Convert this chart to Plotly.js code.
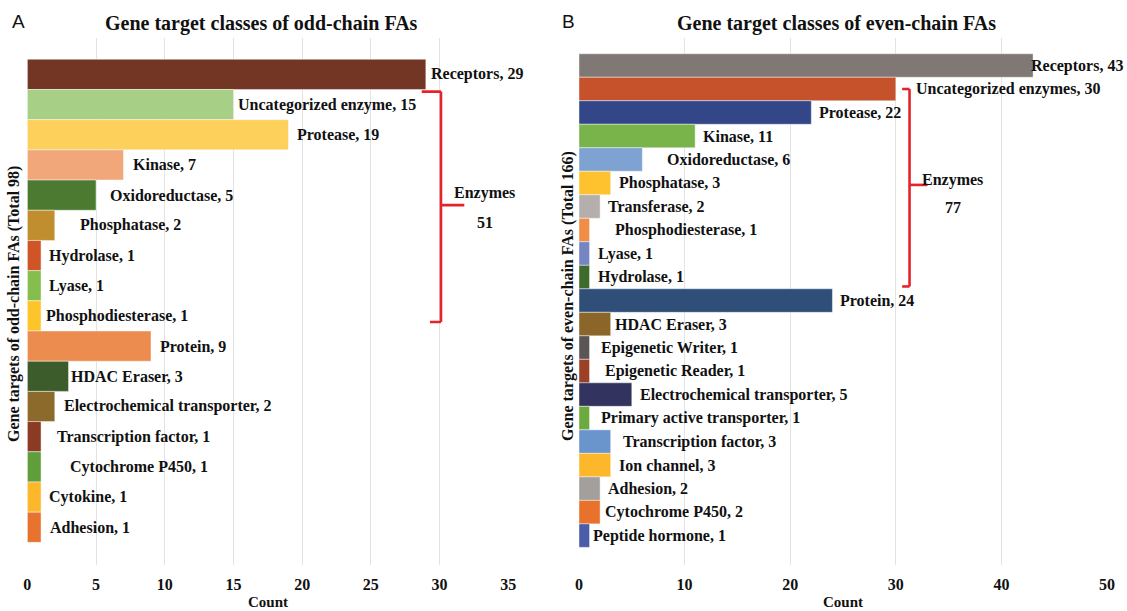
<!DOCTYPE html>
<html>
<head>
<meta charset="utf-8">
<script src="https://cdn.plot.ly/plotly-3.0.1.min.js"></script>
<style>
  html, body { margin: 0; padding: 0; background: #ffffff; }
  #chart { width: 1127px; height: 611px; }
</style>
</head>
<body>
<div id="chart"></div>
<script>
// ---- Odd-chain fatty acids: gene target classes ----
const oddClasses = [
  'Receptors', 'Uncategorized enzyme', 'Protease', 'Kinase', 'Oxidoreductase',
  'Phosphatase', 'Hydrolase', 'Lyase', 'Phosphodiesterase', 'Protein',
  'HDAC Eraser', 'Electrochemical transporter', 'Transcription factor',
  'Cytochrome P450', 'Cytokine', 'Adhesion'
];
const oddCounts = [29, 15, 19, 7, 5, 2, 1, 1, 1, 9, 3, 2, 1, 1, 1, 1];
const oddEnzymes = ['Uncategorized enzyme', 'Protease', 'Kinase', 'Oxidoreductase',
  'Phosphatase', 'Hydrolase', 'Lyase', 'Phosphodiesterase'];

// ---- Even-chain fatty acids: gene target classes ----
const evenClasses = [
  'Receptors', 'Uncategorized enzymes', 'Protease', 'Kinase', 'Oxidoreductase',
  'Phosphatase', 'Transferase', 'Phosphodiesterase', 'Lyase', 'Hydrolase',
  'Protein', 'HDAC Eraser', 'Epigenetic Writer', 'Epigenetic Reader',
  'Electrochemical transporter', 'Primary active transporter',
  'Transcription factor', 'Ion channel', 'Adhesion', 'Cytochrome P450',
  'Peptide hormone'
];
const evenCounts = [43, 30, 22, 11, 6, 3, 2, 1, 1, 1, 24, 3, 1, 1, 5, 1, 3, 3, 2, 2, 1];
const evenEnzymes = ['Uncategorized enzymes', 'Protease', 'Kinase', 'Oxidoreductase',
  'Phosphatase', 'Transferase', 'Phosphodiesterase', 'Lyase', 'Hydrolase'];

// bar fills
const oddColors = [
  '#733524', '#A8CF86', '#FDD05B', '#F2A77A', '#4D7A31', '#C08E2E', '#CF5527',
  '#86BD4F', '#FEC52A', '#EC8C4F', '#3C5C2B', '#8C6A2B', '#8B3A24', '#5F9E3A',
  '#FDB72B', '#E8732E'
];
const evenColors = [
  '#7F7875', '#C5522A', '#334788', '#78B44A', '#7EA3D3', '#FEC22F', '#B4AFAC',
  '#F08D47', '#7585C3', '#3F6A2D', '#2F4E78', '#8C6628', '#5A5655', '#9C4127',
  '#33335F', '#6CAA3F', '#6A95CC', '#FDB72A', '#A39F9C', '#E8712C', '#4B5CA9'
];

// extra horizontal spacing (px) for some value labels
const oddNudge = { 'Phosphatase': 20, 'Oxidoreductase': 9, 'Transcription factor': 11,
  'Cytochrome P450': 24, 'Protein': 4, 'Kinase': 4, 'Protease': 4, 'Hydrolase': 3,
  'Lyase': 3, 'Electrochemical transporter': 4, 'Cytokine': 3, 'Adhesion': 4,
  'HDAC Eraser': -3 };
const evenNudge = { 'Receptors': -7, 'Uncategorized enzymes': 15, 'Oxidoreductase': 20,
  'Phosphodiesterase': 20, 'Epigenetic Writer': 6, 'Epigenetic Reader': 10,
  'Primary active transporter': 6, 'Transcription factor': 7, 'Protease': 3,
  'Kinase': 3, 'Phosphatase': 3, 'Transferase': 3, 'Lyase': 3, 'Hydrolase': 3,
  'Protein': 3, 'Electrochemical transporter': 3, 'Ion channel': 3, 'Adhesion': 3,
  'HDAC Eraser': -1, 'Peptide hormone': -2 };

const W = 1127, H = 611;
const SERIF = 'Liberation Serif, Times New Roman, serif';
const SANS = 'Liberation Sans, Arial, sans-serif';
const RED = '#E3242B';
const px = v => v / W;            // horizontal pixel -> paper
const py = v => (H - v) / H;      // vertical pixel -> paper

const sum = arr => arr.reduce((a, b) => a + b, 0);
const groupTotal = (names, values, group) =>
  sum(names.map((n, i) => group.includes(n) ? values[i] : 0));

function barTrace(names, values, colors, xa, ya) {
  return {
    type: 'bar', orientation: 'h',
    y: names, x: values,
    xaxis: xa, yaxis: ya,
    width: 1,
    marker: { color: colors, line: { color: 'rgba(255,255,255,0.55)', width: 0.8 } },
    hoverinfo: 'y+x', showlegend: false
  };
}

function valueLabels(names, values, nudge, xa, ya) {
  return names.map((n, i) => ({
    xref: xa, yref: ya, x: values[i], y: n,
    text: n + ', ' + values[i],
    showarrow: false, xanchor: 'left', yanchor: 'middle',
    xshift: 3 + (nudge[n] || 0),
    font: { family: SERIF, size: 16, color: '#111111', weight: 'bold' }
  }));
}

// curly bracket marking the enzyme group
function bracket(xa, ya, xv, xTop, xBot, xTip, yTop, yMid, yBot) {
  const base = { type: 'line', xref: xa, yref: ya, line: { color: RED, width: 2.6 } };
  return [
    Object.assign({}, base, { x0: xTop, x1: xv, y0: yTop, y1: yTop }),
    Object.assign({}, base, { x0: xv, x1: xv, y0: yTop, y1: yBot }),
    Object.assign({}, base, { x0: xBot, x1: xv, y0: yBot, y1: yBot }),
    Object.assign({}, base, { x0: xv, x1: xTip, y0: yMid, y1: yMid })
  ];
}

const oddTotal = sum(oddCounts);
const evenTotal = sum(evenCounts);
const oddEnzTotal = groupTotal(oddClasses, oddCounts, oddEnzymes);
const evenEnzTotal = groupTotal(evenClasses, evenCounts, evenEnzymes);

const data = [
  barTrace(oddClasses, oddCounts, oddColors, 'x', 'y'),
  barTrace(evenClasses, evenCounts, evenColors, 'x2', 'y2')
];

const tickFont = { family: SERIF, size: 16, color: '#111111', weight: 'bold' };
const xCommon = {
  showgrid: true, gridcolor: '#E3E3E3', gridwidth: 1,
  zeroline: false, showline: false, ticks: '',
  tickfont: tickFont, ticklabelstandoff: 8, fixedrange: true
};
const yCommon = {
  type: 'category', showgrid: false, zeroline: false, showline: false,
  showticklabels: false, ticks: '', fixedrange: true
};

const boldText = (size, family) => ({ family: family || SERIF, size: size, color: '#111111', weight: 'bold' });

const annotations = [
  // panel letters
  { xref: 'paper', yref: 'paper', x: px(10), y: py(22), xanchor: 'left', yanchor: 'middle',
    text: 'A', showarrow: false, font: { family: SANS, size: 19, color: '#111111' } },
  { xref: 'paper', yref: 'paper', x: px(560), y: py(22), xanchor: 'left', yanchor: 'middle',
    text: 'B', showarrow: false, font: { family: SANS, size: 19, color: '#111111' } },
  // panel titles
  { xref: 'paper', yref: 'paper', x: px(261), y: py(23), xanchor: 'center', yanchor: 'middle',
    text: 'Gene target classes of odd-chain FAs', showarrow: false, font: boldText(20) },
  { xref: 'paper', yref: 'paper', x: px(836), y: py(23), xanchor: 'center', yanchor: 'middle',
    text: 'Gene target classes of even-chain FAs', showarrow: false, font: boldText(20) },
  // y-axis titles
  { xref: 'paper', yref: 'paper', x: px(14), y: py(304), xanchor: 'center', yanchor: 'middle',
    textangle: -90, text: 'Gene targets of odd-chain FAs (Total ' + oddTotal + ')',
    showarrow: false, font: boldText(16) },
  { xref: 'paper', yref: 'paper', x: px(568), y: py(296), xanchor: 'center', yanchor: 'middle',
    textangle: -90, text: 'Gene targets of even-chain FAs (Total ' + evenTotal + ')',
    showarrow: false, font: boldText(16) },
  // x-axis titles
  { xref: 'paper', yref: 'paper', x: px(268), y: 0, xanchor: 'center', yanchor: 'bottom',
    text: 'Count', showarrow: false, borderpad: 0, font: boldText(15) },
  { xref: 'paper', yref: 'paper', x: px(843), y: 0, xanchor: 'center', yanchor: 'bottom',
    text: 'Count', showarrow: false, borderpad: 0, font: boldText(15) },
  // enzyme group labels
  { xref: 'x', yref: 'y', x: 33.3, y: 3.93, text: 'Enzymes', showarrow: false,
    xanchor: 'center', font: boldText(16) },
  { xref: 'x', yref: 'y', x: 33.3, y: 4.92, text: String(oddEnzTotal), showarrow: false,
    xanchor: 'center', font: boldText(16) },
  { xref: 'x2', yref: 'y2', x: 35.4, y: 4.87, text: 'Enzymes', showarrow: false,
    xanchor: 'center', font: boldText(16) },
  { xref: 'x2', yref: 'y2', x: 35.4, y: 6.06, text: String(evenEnzTotal), showarrow: false,
    xanchor: 'center', font: boldText(16) }
].concat(
  valueLabels(oddClasses, oddCounts, oddNudge, 'x', 'y'),
  valueLabels(evenClasses, evenCounts, evenNudge, 'x2', 'y2')
);

const shapes = [].concat(
  bracket('x', 'y', 30.1, 28.7, 29.3, 31.8, 0.57, 4.33, 8.2),
  bracket('x2', 'y2', 31.3, 30.6, 30.6, 33.0, 1.0, 5.08, 9.4)
);

const layout = {
  width: W, height: H,
  margin: { l: 0, r: 0, t: 0, b: 0, pad: 0 },
  paper_bgcolor: '#ffffff', plot_bgcolor: '#ffffff',
  showlegend: false,
  bargap: 0,
  xaxis: Object.assign({}, xCommon, { domain: [px(27.3), px(508.3)], range: [0, 35], dtick: 5, anchor: 'y' }),
  yaxis: Object.assign({}, yCommon, { domain: [py(565), py(38)], range: [16.25, -1.205], anchor: 'x' }),
  xaxis2: Object.assign({}, xCommon, { domain: [px(579), px(1107)], range: [0, 50], dtick: 10, anchor: 'y2' }),
  yaxis2: Object.assign({}, yCommon, { domain: [py(565), py(38)], range: [21.25, -1.17], anchor: 'x2' }),
  annotations: annotations,
  shapes: shapes
};

Plotly.newPlot('chart', data, layout, { displayModeBar: false, staticPlot: true });
</script>
</body>
</html>
